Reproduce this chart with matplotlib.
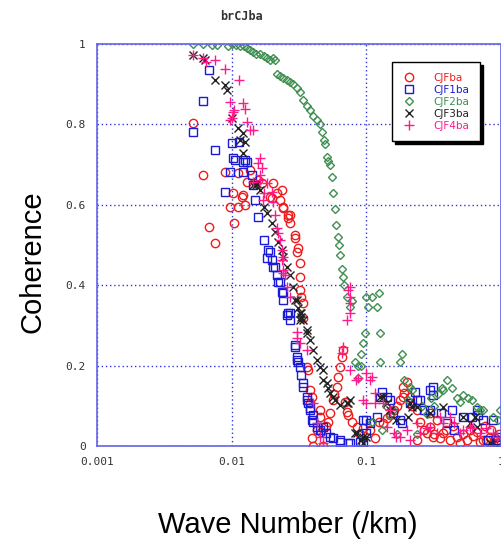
import matplotlib
matplotlib.use("Agg")
import matplotlib.pyplot as plt
from matplotlib.ticker import FixedLocator, NullLocator

# CJFba (red circles)
k_cjf = [0.00516, 0.00612, 0.0068, 0.0075, 0.0089, 0.0097, 0.0102, 0.0104, 0.0112, 0.0112,
         0.0119, 0.0121, 0.0125, 0.013, 0.0137, 0.0156, 0.0168, 0.0192, 0.0198, 0.0203,
         0.0217, 0.0228, 0.0235, 0.024, 0.024, 0.026, 0.026, 0.0271, 0.0271, 0.0295,
         0.0295, 0.0305, 0.031, 0.0321, 0.0321, 0.0321, 0.033, 0.0338, 0.0338, 0.0362,
         0.0367, 0.0381, 0.0394, 0.0381, 0.0402, 0.0394, 0.043, 0.0452, 0.0452, 0.0476,
         0.0519, 0.0537, 0.0565, 0.0604, 0.0615, 0.0637, 0.0659, 0.067, 0.0718, 0.073,
         0.0849, 0.1067, 0.133, 0.142, 0.15, 0.177, 0.186, 0.186, 0.192, 0.21,
         0.21, 0.237, 0.237, 0.28, 0.296, 0.296, 0.31, 0.335, 0.37, 0.417,
         0.47, 0.495, 0.56, 0.59, 0.73, 0.78, 0.83, 0.87, 0.93,
         0.046, 0.05, 0.058, 0.07, 0.078, 0.09, 0.095, 0.115, 0.125, 0.16,
         0.17, 0.2, 0.22, 0.25, 0.27, 0.32, 0.35, 0.39, 0.44, 0.52,
         0.62, 0.66, 0.7, 0.76, 0.85, 0.9, 0.97]
c_cjf = [0.803, 0.674, 0.545, 0.505, 0.682, 0.595, 0.629, 0.555, 0.679, 0.595,
         0.619, 0.624, 0.6, 0.657, 0.687, 0.662, 0.654, 0.619, 0.617, 0.654,
         0.629, 0.612, 0.637, 0.595, 0.592, 0.575, 0.567, 0.555, 0.575, 0.525,
         0.517, 0.483, 0.493, 0.455, 0.42, 0.388, 0.371, 0.356, 0.318, 0.197,
         0.19, 0.139, 0.122, 0.107, 0.0, 0.02, 0.04, 0.072, 0.09, 0.0,
         0.06, 0.082, 0.114, 0.147, 0.172, 0.197, 0.221, 0.239, 0.085, 0.077,
         0.047, 0.04, 0.057, 0.07, 0.077, 0.114, 0.147, 0.122, 0.132, 0.122,
         0.107, 0.09, 0.015, 0.032, 0.082, 0.047, 0.022, 0.065, 0.032, 0.015,
         0.022, 0.007, 0.015, 0.04, 0.015, 0.015, 0.022, 0.007, 0.007,
         0.035, 0.05, 0.13, 0.11, 0.06, 0.03, 0.045, 0.02, 0.06, 0.09,
         0.1, 0.16, 0.1, 0.06, 0.04, 0.03, 0.02, 0.04, 0.05, 0.03,
         0.025, 0.035, 0.01, 0.05, 0.04, 0.02, 0.03]

# CJF1ba (blue squares)
k_cjf1 = [0.0052, 0.0061, 0.0068, 0.0075, 0.0089, 0.0097, 0.01, 0.0102, 0.0106, 0.0113,
          0.0121, 0.0121, 0.0125, 0.013, 0.0141, 0.0144, 0.015, 0.0157, 0.0174, 0.0187,
          0.0192, 0.0183, 0.0198, 0.0203, 0.021, 0.0217, 0.0222, 0.0228, 0.0235, 0.024,
          0.024, 0.0257, 0.026, 0.0271, 0.0271, 0.0295, 0.0295, 0.0305, 0.0305, 0.031,
          0.0321, 0.033, 0.0338, 0.0338, 0.0362, 0.0362, 0.0367, 0.0381, 0.0381, 0.0394,
          0.0402, 0.0402, 0.043, 0.0452, 0.0476, 0.05, 0.0537, 0.0565, 0.0637, 0.0637,
          0.073, 0.0755, 0.0896, 0.094, 0.094, 0.1, 0.1, 0.107, 0.12, 0.126,
          0.13, 0.142, 0.15, 0.157, 0.177, 0.185, 0.21, 0.23, 0.237, 0.25,
          0.27, 0.296, 0.296, 0.31, 0.31, 0.36, 0.4, 0.43, 0.45, 0.52,
          0.61, 0.66, 0.68, 0.73, 0.87, 0.8, 0.93, 0.93]
c_cjf1 = [0.781, 0.858, 0.935, 0.736, 0.632, 0.682, 0.754, 0.716, 0.711, 0.756,
          0.706, 0.682, 0.711, 0.706, 0.674, 0.649, 0.612, 0.57, 0.512, 0.488,
          0.483, 0.468, 0.463, 0.445, 0.445, 0.425, 0.408, 0.408, 0.383, 0.363,
          0.381, 0.326, 0.331, 0.313, 0.331, 0.251, 0.246, 0.221, 0.214, 0.209,
          0.197, 0.177, 0.157, 0.147, 0.122, 0.114, 0.107, 0.095, 0.09, 0.065,
          0.06, 0.077, 0.047, 0.04, 0.047, 0.032, 0.022, 0.02, 0.015, 0.01,
          0.007, 0.007, 0.01, 0.007, 0.065, 0.032, 0.065, 0.057, 0.072, 0.122,
          0.134, 0.122, 0.114, 0.082, 0.065, 0.057, 0.107, 0.134, 0.114, 0.114,
          0.09, 0.09, 0.139, 0.127, 0.147, 0.082, 0.057, 0.09, 0.04, 0.072,
          0.072, 0.09, 0.077, 0.065, 0.065, 0.015, 0.015, 0.022]

# CJF2ba (green diamonds)
k_cjf2 = [0.00516, 0.00612, 0.00714, 0.00778, 0.00939, 0.01, 0.01076, 0.0115, 0.0123, 0.013,
          0.0137, 0.0144, 0.0151, 0.0162, 0.0174, 0.0183, 0.0192, 0.0203, 0.021, 0.0217,
          0.0228, 0.024, 0.0257, 0.0271, 0.0285, 0.0305, 0.0321, 0.0338, 0.0362, 0.0381,
          0.0402, 0.043, 0.0452, 0.0468, 0.0484, 0.0493, 0.051, 0.0519, 0.0537, 0.0556,
          0.0565, 0.0585, 0.0595, 0.0615, 0.0626, 0.0637, 0.0659, 0.067, 0.0682, 0.0718,
          0.0755, 0.0782, 0.0822, 0.0866, 0.0866, 0.092, 0.092, 0.094, 0.0976, 0.1,
          0.1026, 0.11, 0.1196, 0.1235, 0.126, 0.126, 0.1496, 0.157, 0.177, 0.183,
          0.192, 0.203, 0.21, 0.22, 0.237, 0.364, 0.372, 0.40, 0.43, 0.47,
          0.495, 0.52, 0.565, 0.61, 0.66, 0.70, 0.73, 0.87, 0.95, 0.98,
          0.11, 0.13, 0.14, 0.17, 0.26, 0.28, 0.3, 0.32, 0.34]
c_cjf2 = [1.0, 1.0, 0.998, 0.998, 0.995, 1.0, 0.998, 0.995, 0.995, 0.99,
          0.985, 0.98, 0.975, 0.975, 0.97, 0.965, 0.96, 0.965, 0.96, 0.925,
          0.92, 0.915, 0.91, 0.905, 0.9, 0.89, 0.88, 0.86, 0.845, 0.835,
          0.82, 0.81, 0.8, 0.78, 0.76, 0.75, 0.72, 0.71, 0.7, 0.67,
          0.63, 0.59, 0.55, 0.52, 0.5, 0.475, 0.44, 0.42, 0.40, 0.37,
          0.345, 0.36, 0.21, 0.2, 0.17, 0.23, 0.2, 0.256, 0.28, 0.37,
          0.345, 0.37, 0.345, 0.38, 0.28, 0.21, 0.077, 0.09, 0.21, 0.23,
          0.165, 0.115, 0.147, 0.14, 0.03, 0.145, 0.14, 0.165, 0.145, 0.12,
          0.11, 0.127, 0.12, 0.115, 0.097, 0.09, 0.09, 0.072, 0.065, 0.09,
          0.06, 0.04, 0.1, 0.03, 0.1, 0.08, 0.12, 0.1, 0.13]

# CJF3ba (black crosses)
k_cjf3 = [0.0052, 0.0061, 0.0063, 0.0075, 0.0089, 0.0092, 0.01, 0.0112, 0.0121, 0.0115,
          0.0125, 0.0121, 0.0144, 0.0151, 0.0151, 0.0162, 0.0174, 0.0183, 0.0198, 0.021,
          0.0222, 0.0235, 0.024, 0.0257, 0.0271, 0.0285, 0.0295, 0.0305, 0.031, 0.0321,
          0.033, 0.033, 0.0321, 0.0338, 0.0362, 0.0362, 0.0381, 0.0402, 0.043, 0.0452,
          0.0476, 0.0476, 0.051, 0.0519, 0.0537, 0.0565, 0.0585, 0.0637, 0.072, 0.073,
          0.0755, 0.0822, 0.085, 0.092, 0.094, 0.1, 0.094, 0.126, 0.133, 0.142,
          0.15, 0.165, 0.203, 0.21, 0.22, 0.237, 0.296, 0.37, 0.52, 0.59,
          0.64, 0.66, 0.83, 0.93]
c_cjf3 = [0.973, 0.965, 0.96, 0.91, 0.898, 0.886, 0.816, 0.791, 0.779, 0.761,
          0.756, 0.729, 0.649, 0.654, 0.649, 0.637, 0.595, 0.58, 0.555, 0.532,
          0.507, 0.488, 0.47, 0.445, 0.425, 0.396, 0.363, 0.363, 0.343, 0.331,
          0.321, 0.331, 0.313, 0.313, 0.289, 0.281, 0.264, 0.239, 0.214, 0.197,
          0.189, 0.164, 0.157, 0.144, 0.132, 0.122, 0.114, 0.102, 0.107, 0.107,
          0.114, 0.032, 0.032, 0.015, 0.022, 0.022, 0.007, 0.122, 0.122, 0.107,
          0.09, 0.065, 0.072, 0.107, 0.097, 0.097, 0.082, 0.097, 0.072, 0.057,
          0.072, 0.047, 0.007, 0.0]

# CJF4ba (pink plus)
k_cjf4 = [0.0052, 0.0061, 0.0065, 0.0075, 0.0089, 0.0113, 0.0097, 0.0121, 0.0125, 0.0104,
          0.0102, 0.01, 0.0097, 0.013, 0.0137, 0.0144, 0.0162, 0.0157, 0.0168, 0.0162,
          0.0162, 0.0144, 0.0183, 0.0198, 0.0174, 0.0203, 0.0172, 0.021, 0.0217, 0.0222,
          0.0228, 0.0235, 0.024, 0.0235, 0.024, 0.024, 0.025, 0.0257, 0.0271, 0.0305,
          0.0305, 0.0321, 0.0362, 0.0402, 0.043, 0.0452, 0.0476, 0.0669, 0.0659, 0.0755,
          0.0866, 0.084, 0.073, 0.0755, 0.0755, 0.0755, 0.0718, 0.0755, 0.1, 0.1067,
          0.11, 0.115, 0.1, 0.095, 0.115, 0.133, 0.15, 0.142, 0.165, 0.16,
          0.177, 0.2, 0.21, 0.237, 0.25, 0.28, 0.296, 0.335, 0.35, 0.37,
          0.417, 0.45, 0.495, 0.52, 0.59, 0.61, 0.7, 0.78, 0.87, 0.93]
c_cjf4 = [0.973, 0.965, 0.955, 0.96, 0.938, 0.91, 0.856, 0.853, 0.838, 0.836,
          0.831, 0.816, 0.811, 0.806, 0.786, 0.786, 0.716, 0.704, 0.692, 0.674,
          0.662, 0.657, 0.654, 0.632, 0.629, 0.607, 0.612, 0.575, 0.542, 0.53,
          0.512, 0.488, 0.47, 0.463, 0.438, 0.43, 0.425, 0.396, 0.371, 0.284,
          0.269, 0.256, 0.239, 0.107, 0.057, 0.022, 0.007, 0.246, 0.231, 0.189,
          0.169, 0.164, 0.388, 0.371, 0.356, 0.331, 0.313, 0.396, 0.182, 0.164,
          0.172, 0.132, 0.107, 0.114, 0.107, 0.107, 0.09, 0.047, 0.022, 0.032,
          0.022, 0.04, 0.015, 0.057, 0.032, 0.045, 0.047, 0.032, 0.072, 0.057,
          0.072, 0.057, 0.032, 0.04, 0.047, 0.045, 0.032, 0.045, 0.032, 0.022]

y_ticks = [0, 0.2, 0.4, 0.6, 0.8, 1]
y_labels = ["0", "0.2", "0.4", "0.6", "0.8", "1"]
x_ticks = [0.001, 0.01, 0.1, 1]
x_labels = ["0.001", "0.01", "0.1", "1"]

fig = plt.figure(figsize=(5.02, 5.44), dpi=100)
ax = fig.add_axes([97 / 502, 1 - 446 / 544, 404 / 502, 402 / 544])

ms = 6
ax.plot(k_cjf, c_cjf, ls="none", marker="o", mfc="none", mec="#ee1c1c", ms=ms, mew=1, label="CJFba")
ax.plot(k_cjf1, c_cjf1, ls="none", marker="s", mfc="none", mec="#1a1ad8", ms=ms, mew=1, label="CJF1ba")
ax.plot(k_cjf2, c_cjf2, ls="none", marker="D", mfc="none", mec="#3f8f50", ms=4.2, mew=1, label="CJF2ba")
ax.plot(k_cjf3, c_cjf3, ls="none", marker="x", color="#222222", ms=ms, mew=1, label="CJF3ba")
ax.plot(k_cjf4, c_cjf4, ls="none", marker="+", color="#ff1a8c", ms=ms + 1, mew=1, label="CJF4ba")

ax.set_xscale("log")
ax.set_xlim(0.001, 1)
ax.set_ylim(0, 1)
ax.xaxis.set_major_locator(FixedLocator(x_ticks))
ax.xaxis.set_minor_locator(NullLocator())
ax.set_xticklabels(x_labels)
ax.set_yticks(y_ticks)
ax.set_yticklabels(y_labels)
ax.tick_params(length=0, pad=8, labelsize=8, labelcolor="#333333")
for t in ax.get_xticklabels() + ax.get_yticklabels():
    t.set_family("DejaVu Sans Mono")
ax.grid(True, color="#3333dd", ls=(0, (1, 2)), lw=1)
for s in ax.spines.values():
    s.set_color("#6464e6")
    s.set_linewidth(1.2)

leg = ax.legend(loc="upper right", bbox_to_anchor=(0.948, 0.955), fontsize=7.5,
                fancybox=False, edgecolor="black", framealpha=1,
                shadow={"color": "black", "alpha": 1}, handlelength=1.2,
                handletextpad=1.8, labelspacing=0.2, borderpad=1.0, borderaxespad=0)
leg.get_frame().set_linewidth(1)
for txt, c in zip(leg.get_texts(), ["#ee1c1c", "#1a1ad8", "#3f8f50", "#222222", "#ff1a8c"]):
    txt.set_color(c)

fig.text(242 / 502, 1 - 17 / 544, "brCJba", ha="center", va="center", fontsize=8.5,
         weight="bold", family="DejaVu Sans Mono", color="#333333")
fig.text(33 / 502, 1 - 262 / 544, "Coherence", rotation=90, ha="center", va="center",
         fontsize=21, family="Liberation Sans")
fig.text(288 / 502, 1 - 525 / 544, "Wave Number (/km)", ha="center", va="center",
         fontsize=21, family="Liberation Sans")

fig.savefig("out.png", dpi=100)
